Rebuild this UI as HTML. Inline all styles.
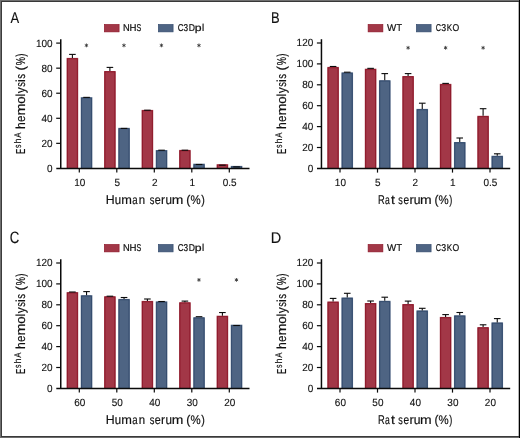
<!DOCTYPE html>
<html><head><meta charset="utf-8"><style>
html,body{margin:0;padding:0;background:#fff;}
body{width:520px;height:438px;overflow:hidden;position:relative;}
svg{position:absolute;left:0;top:0;display:block;will-change:transform;}
text{font-family:"Liberation Sans", sans-serif;fill:#111111;stroke:#111111;stroke-width:0.12px;stroke-linejoin:round;text-rendering:geometricPrecision;}
</style></head><body>
<svg width="520" height="438" viewBox="0 0 520 438">
<defs><filter id="bl" x="-100%" y="-100%" width="300%" height="300%"><feGaussianBlur stdDeviation="0.35"/></filter></defs>
<rect x="0" y="0" width="520" height="438" fill="#fff"/>
<text transform="translate(10.474,22.7) scale(0.834,1)" font-size="15.552">A</text>
<rect x="104.3" y="24.4" width="14.8" height="7.5" fill="#a23747" stroke="#8a1325" stroke-width="0.6"/>
<rect x="158.3" y="24.4" width="14.8" height="7.5" fill="#4e6483" stroke="#30476a" stroke-width="0.6"/>
<text transform="translate(0,31)" font-size="9.9" style="stroke-width:0.22px"><tspan x="122.987" textLength="6.718" lengthAdjust="spacingAndGlyphs">N</tspan><tspan x="129.508" textLength="6.976" lengthAdjust="spacingAndGlyphs">H</tspan><tspan x="136.522" textLength="4.756" lengthAdjust="spacingAndGlyphs">S</tspan></text>
<text transform="translate(0,31)" font-size="9.9" style="stroke-width:0.22px"><tspan x="177.639" textLength="5.818" lengthAdjust="spacingAndGlyphs">C</tspan><tspan x="183.537" textLength="4.576" lengthAdjust="spacingAndGlyphs">3</tspan><tspan x="188.644" textLength="6.221" lengthAdjust="spacingAndGlyphs">D</tspan><tspan x="194.868" textLength="6.797" lengthAdjust="spacingAndGlyphs">p</tspan><tspan x="201.901" textLength="2.2" lengthAdjust="spacingAndGlyphs">l</tspan></text>
<rect x="66.6" y="57.9" width="11.6" height="110.5" fill="#a23747"/>
<path d="M67.45,168.4V58.75H77.35V168.4" fill="none" stroke="#8a1325" stroke-width="0.8"/>
<line x1="72.4" y1="57.9" x2="72.4" y2="54.4" stroke="#0a0a0a" stroke-width="1.1"/>
<line x1="69.1" y1="54.4" x2="75.7" y2="54.4" stroke="#0a0a0a" stroke-width="1.1"/>
<rect x="80.75" y="97.2" width="11.6" height="71.2" fill="#4e6483"/>
<path d="M81.6,168.4V98.05H91.5V168.4" fill="none" stroke="#30476a" stroke-width="0.8"/>
<line x1="83.25" y1="97.37" x2="89.85" y2="97.37" stroke="#0a0a0a" stroke-width="1.1"/>
<rect x="104.1" y="71" width="11.6" height="97.4" fill="#a23747"/>
<path d="M104.95,168.4V71.85H114.85V168.4" fill="none" stroke="#8a1325" stroke-width="0.8"/>
<line x1="109.9" y1="71" x2="109.9" y2="67.4" stroke="#0a0a0a" stroke-width="1.1"/>
<line x1="106.6" y1="67.4" x2="113.2" y2="67.4" stroke="#0a0a0a" stroke-width="1.1"/>
<rect x="118.25" y="127.85" width="11.6" height="40.55" fill="#4e6483"/>
<path d="M119.1,168.4V128.7H129V168.4" fill="none" stroke="#30476a" stroke-width="0.8"/>
<line x1="120.75" y1="128.4" x2="127.35" y2="128.4" stroke="#0a0a0a" stroke-width="1.1"/>
<rect x="141.6" y="109.9" width="11.6" height="58.5" fill="#a23747"/>
<path d="M142.45,168.4V110.75H152.35V168.4" fill="none" stroke="#8a1325" stroke-width="0.8"/>
<line x1="144.1" y1="110.2" x2="150.7" y2="110.2" stroke="#0a0a0a" stroke-width="1.1"/>
<rect x="155.75" y="150.05" width="11.6" height="18.35" fill="#4e6483"/>
<path d="M156.6,168.4V150.9H166.5V168.4" fill="none" stroke="#30476a" stroke-width="0.8"/>
<line x1="158.25" y1="150.2" x2="164.85" y2="150.2" stroke="#0a0a0a" stroke-width="1.1"/>
<rect x="179.1" y="149.9" width="11.6" height="18.5" fill="#a23747"/>
<path d="M179.95,168.4V150.75H189.85V168.4" fill="none" stroke="#8a1325" stroke-width="0.8"/>
<line x1="181.6" y1="150.2" x2="188.2" y2="150.2" stroke="#0a0a0a" stroke-width="1.1"/>
<rect x="193.25" y="163.7" width="11.6" height="4.7" fill="#4e6483"/>
<path d="M194.1,168.4V164.55H204V168.4" fill="none" stroke="#30476a" stroke-width="0.8"/>
<line x1="195.75" y1="164.5" x2="202.35" y2="164.5" stroke="#0a0a0a" stroke-width="1.1"/>
<rect x="216.6" y="164.2" width="11.6" height="4.2" fill="#a23747"/>
<path d="M217.45,168.4V165.05H227.35V168.4" fill="none" stroke="#8a1325" stroke-width="0.8"/>
<line x1="219.1" y1="165.2" x2="225.7" y2="165.2" stroke="#0a0a0a" stroke-width="1.1"/>
<rect x="230.75" y="165.9" width="11.6" height="2.5" fill="#4e6483"/>
<path d="M231.6,168.4V166.75H241.5V168.4" fill="none" stroke="#30476a" stroke-width="0.8"/>
<line x1="233.25" y1="166.9" x2="239.85" y2="166.9" stroke="#0a0a0a" stroke-width="1.1"/>
<g transform="translate(86.45,45.4)" stroke="#333" stroke-width="0.85" stroke-linecap="round" filter="url(#bl)"><line x1="0" y1="-1.5" x2="0" y2="1.5"/><line x1="-1.3" y1="-0.75" x2="1.3" y2="0.75"/><line x1="-1.3" y1="0.75" x2="1.3" y2="-0.75"/></g>
<g transform="translate(123.95,45.4)" stroke="#333" stroke-width="0.85" stroke-linecap="round" filter="url(#bl)"><line x1="0" y1="-1.5" x2="0" y2="1.5"/><line x1="-1.3" y1="-0.75" x2="1.3" y2="0.75"/><line x1="-1.3" y1="0.75" x2="1.3" y2="-0.75"/></g>
<g transform="translate(161.45,45.4)" stroke="#333" stroke-width="0.85" stroke-linecap="round" filter="url(#bl)"><line x1="0" y1="-1.5" x2="0" y2="1.5"/><line x1="-1.3" y1="-0.75" x2="1.3" y2="0.75"/><line x1="-1.3" y1="0.75" x2="1.3" y2="-0.75"/></g>
<g transform="translate(198.95,45.4)" stroke="#333" stroke-width="0.85" stroke-linecap="round" filter="url(#bl)"><line x1="0" y1="-1.5" x2="0" y2="1.5"/><line x1="-1.3" y1="-0.75" x2="1.3" y2="0.75"/><line x1="-1.3" y1="0.75" x2="1.3" y2="-0.75"/></g>
<line x1="60.75" y1="39.2" x2="60.75" y2="168.4" stroke="#0a0a0a" stroke-width="1.5"/>
<line x1="56.3" y1="168.45" x2="249.5" y2="168.45" stroke="#0a0a0a" stroke-width="1.35"/>
<text transform="translate(52.55,171.85) scale(0.955,1)" font-size="10.45" text-anchor="end">0</text>
<line x1="56.2" y1="143.34" x2="60.75" y2="143.34" stroke="#0a0a0a" stroke-width="1.2"/>
<text transform="translate(52.55,146.79) scale(0.955,1)" font-size="10.45" text-anchor="end">20</text>
<line x1="56.2" y1="118.28" x2="60.75" y2="118.28" stroke="#0a0a0a" stroke-width="1.2"/>
<text transform="translate(52.55,121.73) scale(0.955,1)" font-size="10.45" text-anchor="end">40</text>
<line x1="56.2" y1="93.22" x2="60.75" y2="93.22" stroke="#0a0a0a" stroke-width="1.2"/>
<text transform="translate(52.55,96.67) scale(0.955,1)" font-size="10.45" text-anchor="end">60</text>
<line x1="56.2" y1="68.16" x2="60.75" y2="68.16" stroke="#0a0a0a" stroke-width="1.2"/>
<text transform="translate(52.55,71.61) scale(0.955,1)" font-size="10.45" text-anchor="end">80</text>
<line x1="56.2" y1="43.1" x2="60.75" y2="43.1" stroke="#0a0a0a" stroke-width="1.2"/>
<text transform="translate(52.55,46.55) scale(0.955,1)" font-size="10.45" text-anchor="end">100</text>
<line x1="79.3" y1="168.4" x2="79.3" y2="172.6" stroke="#0a0a0a" stroke-width="1.2"/>
<text transform="translate(79.7,185.8) scale(0.955,1)" font-size="10.45" text-anchor="middle">10</text>
<line x1="116.8" y1="168.4" x2="116.8" y2="172.6" stroke="#0a0a0a" stroke-width="1.2"/>
<text transform="translate(117.2,185.8) scale(0.955,1)" font-size="10.45" text-anchor="middle">5</text>
<line x1="154.3" y1="168.4" x2="154.3" y2="172.6" stroke="#0a0a0a" stroke-width="1.2"/>
<text transform="translate(154.7,185.8) scale(0.955,1)" font-size="10.45" text-anchor="middle">2</text>
<line x1="191.8" y1="168.4" x2="191.8" y2="172.6" stroke="#0a0a0a" stroke-width="1.2"/>
<text transform="translate(192.2,185.8) scale(0.955,1)" font-size="10.45" text-anchor="middle">1</text>
<line x1="229.3" y1="168.4" x2="229.3" y2="172.6" stroke="#0a0a0a" stroke-width="1.2"/>
<text transform="translate(229.7,185.8) scale(0.955,1)" font-size="10.45" text-anchor="middle">0.5</text>
<text transform="translate(0,204.2)" font-size="12.6" style="stroke-width:0.18px"><tspan x="105.806" textLength="8.927" lengthAdjust="spacingAndGlyphs">H</tspan><tspan x="114.777" textLength="6.36" lengthAdjust="spacingAndGlyphs">u</tspan><tspan x="121.376" textLength="10.647" lengthAdjust="spacingAndGlyphs">m</tspan><tspan x="132.315" textLength="5.367" lengthAdjust="spacingAndGlyphs">a</tspan><tspan x="138.865" textLength="6.36" lengthAdjust="spacingAndGlyphs">n</tspan><tspan x="149.659" textLength="4.656" lengthAdjust="spacingAndGlyphs">s</tspan><tspan x="154.868" textLength="5.988" lengthAdjust="spacingAndGlyphs">e</tspan><tspan x="161.112" textLength="4.076" lengthAdjust="spacingAndGlyphs">r</tspan><tspan x="165.561" textLength="6.491" lengthAdjust="spacingAndGlyphs">u</tspan><tspan x="171.801" textLength="11.598" lengthAdjust="spacingAndGlyphs">m</tspan><tspan x="186.157" textLength="4.097" lengthAdjust="spacingAndGlyphs">(</tspan><tspan x="190.408" textLength="10.174" lengthAdjust="spacingAndGlyphs">%</tspan><tspan x="201.155" textLength="3.594" lengthAdjust="spacingAndGlyphs">)</tspan></text>
<g transform="rotate(-90)"><text transform="translate(0,25.4)" font-size="13" style="stroke-width:0.18px"><tspan x="-128.924" textLength="6.8" lengthAdjust="spacingAndGlyphs">h</tspan><tspan x="-121.968" textLength="6.461" lengthAdjust="spacingAndGlyphs">e</tspan><tspan x="-115.437" textLength="12.073" lengthAdjust="spacingAndGlyphs">m</tspan><tspan x="-103.737" textLength="7.376" lengthAdjust="spacingAndGlyphs">o</tspan><tspan x="-96.543" textLength="2.888" lengthAdjust="spacingAndGlyphs">l</tspan><tspan x="-93.316" textLength="5.919" lengthAdjust="spacingAndGlyphs">y</tspan><tspan x="-86.841" textLength="4.656" lengthAdjust="spacingAndGlyphs">s</tspan><tspan x="-81.993" textLength="2.888" lengthAdjust="spacingAndGlyphs">i</tspan><tspan x="-78.647" textLength="4.771" lengthAdjust="spacingAndGlyphs">s</tspan><tspan x="-70.536" textLength="4.599" lengthAdjust="spacingAndGlyphs">(</tspan><tspan x="-65.213" textLength="8.218" lengthAdjust="spacingAndGlyphs">%</tspan><tspan x="-56.74" textLength="3.343" lengthAdjust="spacingAndGlyphs">)</tspan></text><text transform="translate(0,21)" font-size="9.6" style="stroke-width:0.18px"><tspan x="-147.923" textLength="3.452" lengthAdjust="spacingAndGlyphs">s</tspan><tspan x="-143.603" textLength="5.021" lengthAdjust="spacingAndGlyphs">h</tspan><tspan x="-137.696" textLength="5.292" lengthAdjust="spacingAndGlyphs">A</tspan></text><text transform="translate(0,25.4)" font-size="13" style="stroke-width:0.18px"><tspan x="-154.04" textLength="5.366" lengthAdjust="spacingAndGlyphs">E</tspan></text></g>
<text transform="translate(270.936,22.7) scale(0.834,1)" font-size="15.552">B</text>
<rect x="368.1" y="24.4" width="14.8" height="7.5" fill="#a23747" stroke="#8a1325" stroke-width="0.6"/>
<rect x="416.3" y="24.4" width="14.8" height="7.5" fill="#4e6483" stroke="#30476a" stroke-width="0.6"/>
<text transform="translate(0,31)" font-size="9.9" style="stroke-width:0.22px"><tspan x="386.901" textLength="9.237" lengthAdjust="spacingAndGlyphs">W</tspan><tspan x="396.552" textLength="5.504" lengthAdjust="spacingAndGlyphs">T</tspan></text>
<text transform="translate(0,31)" font-size="9.9" style="stroke-width:0.22px"><tspan x="435.675" textLength="5.305" lengthAdjust="spacingAndGlyphs">C</tspan><tspan x="441.217" textLength="4.869" lengthAdjust="spacingAndGlyphs">3</tspan><tspan x="446.635" textLength="5.413" lengthAdjust="spacingAndGlyphs">K</tspan><tspan x="452.394" textLength="6.719" lengthAdjust="spacingAndGlyphs">O</tspan></text>
<rect x="327.3" y="66.9" width="11.6" height="101.5" fill="#a23747"/>
<path d="M328.15,168.4V67.75H338.05V168.4" fill="none" stroke="#8a1325" stroke-width="0.8"/>
<line x1="329.8" y1="66.48" x2="336.4" y2="66.48" stroke="#0a0a0a" stroke-width="1.1"/>
<rect x="341.45" y="72.4" width="11.6" height="96" fill="#4e6483"/>
<path d="M342.3,168.4V73.25H352.2V168.4" fill="none" stroke="#30476a" stroke-width="0.8"/>
<line x1="343.95" y1="72.2" x2="350.55" y2="72.2" stroke="#0a0a0a" stroke-width="1.1"/>
<rect x="364.8" y="68.7" width="11.6" height="99.7" fill="#a23747"/>
<path d="M365.65,168.4V69.55H375.55V168.4" fill="none" stroke="#8a1325" stroke-width="0.8"/>
<line x1="367.3" y1="68.35" x2="373.9" y2="68.35" stroke="#0a0a0a" stroke-width="1.1"/>
<rect x="378.95" y="80.2" width="11.6" height="88.2" fill="#4e6483"/>
<path d="M379.8,168.4V81.05H389.7V168.4" fill="none" stroke="#30476a" stroke-width="0.8"/>
<line x1="384.75" y1="80.2" x2="384.75" y2="73.6" stroke="#0a0a0a" stroke-width="1.1"/>
<line x1="381.45" y1="73.6" x2="388.05" y2="73.6" stroke="#0a0a0a" stroke-width="1.1"/>
<rect x="402.3" y="76" width="11.6" height="92.4" fill="#a23747"/>
<path d="M403.15,168.4V76.85H413.05V168.4" fill="none" stroke="#8a1325" stroke-width="0.8"/>
<line x1="408.1" y1="76" x2="408.1" y2="73.6" stroke="#0a0a0a" stroke-width="1.1"/>
<line x1="404.8" y1="73.6" x2="411.4" y2="73.6" stroke="#0a0a0a" stroke-width="1.1"/>
<rect x="416.45" y="108.9" width="11.6" height="59.5" fill="#4e6483"/>
<path d="M417.3,168.4V109.75H427.2V168.4" fill="none" stroke="#30476a" stroke-width="0.8"/>
<line x1="422.25" y1="108.9" x2="422.25" y2="103.2" stroke="#0a0a0a" stroke-width="1.1"/>
<line x1="418.95" y1="103.2" x2="425.55" y2="103.2" stroke="#0a0a0a" stroke-width="1.1"/>
<rect x="439.8" y="83.85" width="11.6" height="84.55" fill="#a23747"/>
<path d="M440.65,168.4V84.7H450.55V168.4" fill="none" stroke="#8a1325" stroke-width="0.8"/>
<line x1="442.3" y1="83.4" x2="448.9" y2="83.4" stroke="#0a0a0a" stroke-width="1.1"/>
<rect x="453.95" y="142" width="11.6" height="26.4" fill="#4e6483"/>
<path d="M454.8,168.4V142.85H464.7V168.4" fill="none" stroke="#30476a" stroke-width="0.8"/>
<line x1="459.75" y1="142" x2="459.75" y2="138" stroke="#0a0a0a" stroke-width="1.1"/>
<line x1="456.45" y1="138" x2="463.05" y2="138" stroke="#0a0a0a" stroke-width="1.1"/>
<rect x="477.3" y="115.8" width="11.6" height="52.6" fill="#a23747"/>
<path d="M478.15,168.4V116.65H488.05V168.4" fill="none" stroke="#8a1325" stroke-width="0.8"/>
<line x1="483.1" y1="115.8" x2="483.1" y2="108.7" stroke="#0a0a0a" stroke-width="1.1"/>
<line x1="479.8" y1="108.7" x2="486.4" y2="108.7" stroke="#0a0a0a" stroke-width="1.1"/>
<rect x="491.45" y="155.75" width="11.6" height="12.65" fill="#4e6483"/>
<path d="M492.3,168.4V156.6H502.2V168.4" fill="none" stroke="#30476a" stroke-width="0.8"/>
<line x1="497.25" y1="155.75" x2="497.25" y2="153.8" stroke="#0a0a0a" stroke-width="1.1"/>
<line x1="493.95" y1="153.8" x2="500.55" y2="153.8" stroke="#0a0a0a" stroke-width="1.1"/>
<g transform="translate(408.1,47.8)" stroke="#333" stroke-width="0.85" stroke-linecap="round" filter="url(#bl)"><line x1="0" y1="-1.5" x2="0" y2="1.5"/><line x1="-1.3" y1="-0.75" x2="1.3" y2="0.75"/><line x1="-1.3" y1="0.75" x2="1.3" y2="-0.75"/></g>
<g transform="translate(445.6,47.8)" stroke="#333" stroke-width="0.85" stroke-linecap="round" filter="url(#bl)"><line x1="0" y1="-1.5" x2="0" y2="1.5"/><line x1="-1.3" y1="-0.75" x2="1.3" y2="0.75"/><line x1="-1.3" y1="0.75" x2="1.3" y2="-0.75"/></g>
<g transform="translate(483.1,47.8)" stroke="#333" stroke-width="0.85" stroke-linecap="round" filter="url(#bl)"><line x1="0" y1="-1.5" x2="0" y2="1.5"/><line x1="-1.3" y1="-0.75" x2="1.3" y2="0.75"/><line x1="-1.3" y1="0.75" x2="1.3" y2="-0.75"/></g>
<line x1="321.45" y1="39.2" x2="321.45" y2="168.4" stroke="#0a0a0a" stroke-width="1.5"/>
<line x1="317" y1="168.45" x2="510.2" y2="168.45" stroke="#0a0a0a" stroke-width="1.35"/>
<text transform="translate(313.25,171.85) scale(0.955,1)" font-size="10.45" text-anchor="end">0</text>
<line x1="316.9" y1="147.5" x2="321.45" y2="147.5" stroke="#0a0a0a" stroke-width="1.2"/>
<text transform="translate(313.25,150.95) scale(0.955,1)" font-size="10.45" text-anchor="end">20</text>
<line x1="316.9" y1="126.6" x2="321.45" y2="126.6" stroke="#0a0a0a" stroke-width="1.2"/>
<text transform="translate(313.25,130.05) scale(0.955,1)" font-size="10.45" text-anchor="end">40</text>
<line x1="316.9" y1="105.7" x2="321.45" y2="105.7" stroke="#0a0a0a" stroke-width="1.2"/>
<text transform="translate(313.25,109.15) scale(0.955,1)" font-size="10.45" text-anchor="end">60</text>
<line x1="316.9" y1="84.8" x2="321.45" y2="84.8" stroke="#0a0a0a" stroke-width="1.2"/>
<text transform="translate(313.25,88.25) scale(0.955,1)" font-size="10.45" text-anchor="end">80</text>
<line x1="316.9" y1="63.9" x2="321.45" y2="63.9" stroke="#0a0a0a" stroke-width="1.2"/>
<text transform="translate(313.25,67.35) scale(0.955,1)" font-size="10.45" text-anchor="end">100</text>
<line x1="316.9" y1="43" x2="321.45" y2="43" stroke="#0a0a0a" stroke-width="1.2"/>
<text transform="translate(313.25,46.45) scale(0.955,1)" font-size="10.45" text-anchor="end">120</text>
<line x1="340" y1="168.4" x2="340" y2="172.6" stroke="#0a0a0a" stroke-width="1.2"/>
<text transform="translate(340.4,185.8) scale(0.955,1)" font-size="10.45" text-anchor="middle">10</text>
<line x1="377.5" y1="168.4" x2="377.5" y2="172.6" stroke="#0a0a0a" stroke-width="1.2"/>
<text transform="translate(377.9,185.8) scale(0.955,1)" font-size="10.45" text-anchor="middle">5</text>
<line x1="415" y1="168.4" x2="415" y2="172.6" stroke="#0a0a0a" stroke-width="1.2"/>
<text transform="translate(415.4,185.8) scale(0.955,1)" font-size="10.45" text-anchor="middle">2</text>
<line x1="452.5" y1="168.4" x2="452.5" y2="172.6" stroke="#0a0a0a" stroke-width="1.2"/>
<text transform="translate(452.9,185.8) scale(0.955,1)" font-size="10.45" text-anchor="middle">1</text>
<line x1="490" y1="168.4" x2="490" y2="172.6" stroke="#0a0a0a" stroke-width="1.2"/>
<text transform="translate(490.4,185.8) scale(0.955,1)" font-size="10.45" text-anchor="middle">0.5</text>
<text transform="translate(0,204.2)" font-size="12.6" style="stroke-width:0.18px"><tspan x="378.051" textLength="6.771" lengthAdjust="spacingAndGlyphs">R</tspan><tspan x="384.96" textLength="4.772" lengthAdjust="spacingAndGlyphs">a</tspan><tspan x="390.908" textLength="3.918" lengthAdjust="spacingAndGlyphs">t</tspan><tspan x="398.166" textLength="4.541" lengthAdjust="spacingAndGlyphs">s</tspan><tspan x="403.395" textLength="5.633" lengthAdjust="spacingAndGlyphs">e</tspan><tspan x="409.459" textLength="4.343" lengthAdjust="spacingAndGlyphs">r</tspan><tspan x="413.631" textLength="6.752" lengthAdjust="spacingAndGlyphs">u</tspan><tspan x="419.996" textLength="11.657" lengthAdjust="spacingAndGlyphs">m</tspan><tspan x="434.481" textLength="3.971" lengthAdjust="spacingAndGlyphs">(</tspan><tspan x="438.608" textLength="10.174" lengthAdjust="spacingAndGlyphs">%</tspan><tspan x="449.364" textLength="3.091" lengthAdjust="spacingAndGlyphs">)</tspan></text>
<g transform="rotate(-90)"><text transform="translate(0,286.1)" font-size="13" style="stroke-width:0.18px"><tspan x="-128.924" textLength="6.8" lengthAdjust="spacingAndGlyphs">h</tspan><tspan x="-121.968" textLength="6.461" lengthAdjust="spacingAndGlyphs">e</tspan><tspan x="-115.437" textLength="12.073" lengthAdjust="spacingAndGlyphs">m</tspan><tspan x="-103.737" textLength="7.376" lengthAdjust="spacingAndGlyphs">o</tspan><tspan x="-96.543" textLength="2.888" lengthAdjust="spacingAndGlyphs">l</tspan><tspan x="-93.316" textLength="5.919" lengthAdjust="spacingAndGlyphs">y</tspan><tspan x="-86.841" textLength="4.656" lengthAdjust="spacingAndGlyphs">s</tspan><tspan x="-81.993" textLength="2.888" lengthAdjust="spacingAndGlyphs">i</tspan><tspan x="-78.647" textLength="4.771" lengthAdjust="spacingAndGlyphs">s</tspan><tspan x="-70.536" textLength="4.599" lengthAdjust="spacingAndGlyphs">(</tspan><tspan x="-65.213" textLength="8.218" lengthAdjust="spacingAndGlyphs">%</tspan><tspan x="-56.74" textLength="3.343" lengthAdjust="spacingAndGlyphs">)</tspan></text><text transform="translate(0,281.7)" font-size="9.6" style="stroke-width:0.18px"><tspan x="-147.923" textLength="3.452" lengthAdjust="spacingAndGlyphs">s</tspan><tspan x="-143.603" textLength="5.021" lengthAdjust="spacingAndGlyphs">h</tspan><tspan x="-137.696" textLength="5.292" lengthAdjust="spacingAndGlyphs">A</tspan></text><text transform="translate(0,286.1)" font-size="13" style="stroke-width:0.18px"><tspan x="-154.04" textLength="5.366" lengthAdjust="spacingAndGlyphs">E</tspan></text></g>
<text transform="translate(9.823,242.8) scale(0.808,1)" font-size="16.424">C</text>
<rect x="104.3" y="244.4" width="14.8" height="7.5" fill="#a23747" stroke="#8a1325" stroke-width="0.6"/>
<rect x="158.3" y="244.4" width="14.8" height="7.5" fill="#4e6483" stroke="#30476a" stroke-width="0.6"/>
<text transform="translate(0,251)" font-size="9.9" style="stroke-width:0.22px"><tspan x="122.987" textLength="6.718" lengthAdjust="spacingAndGlyphs">N</tspan><tspan x="129.508" textLength="6.976" lengthAdjust="spacingAndGlyphs">H</tspan><tspan x="136.522" textLength="4.756" lengthAdjust="spacingAndGlyphs">S</tspan></text>
<text transform="translate(0,251)" font-size="9.9" style="stroke-width:0.22px"><tspan x="177.639" textLength="5.818" lengthAdjust="spacingAndGlyphs">C</tspan><tspan x="183.537" textLength="4.576" lengthAdjust="spacingAndGlyphs">3</tspan><tspan x="188.644" textLength="6.221" lengthAdjust="spacingAndGlyphs">D</tspan><tspan x="194.868" textLength="6.797" lengthAdjust="spacingAndGlyphs">p</tspan><tspan x="201.901" textLength="2.2" lengthAdjust="spacingAndGlyphs">l</tspan></text>
<rect x="66.6" y="292.1" width="11.6" height="96.3" fill="#a23747"/>
<path d="M67.45,388.4V292.95H77.35V388.4" fill="none" stroke="#8a1325" stroke-width="0.8"/>
<line x1="69.1" y1="292" x2="75.7" y2="292" stroke="#0a0a0a" stroke-width="1.1"/>
<rect x="80.75" y="295.2" width="11.6" height="93.2" fill="#4e6483"/>
<path d="M81.6,388.4V296.05H91.5V388.4" fill="none" stroke="#30476a" stroke-width="0.8"/>
<line x1="86.55" y1="295.2" x2="86.55" y2="291.6" stroke="#0a0a0a" stroke-width="1.1"/>
<line x1="83.25" y1="291.6" x2="89.85" y2="291.6" stroke="#0a0a0a" stroke-width="1.1"/>
<rect x="104.1" y="296.2" width="11.6" height="92.2" fill="#a23747"/>
<path d="M104.95,388.4V297.05H114.85V388.4" fill="none" stroke="#8a1325" stroke-width="0.8"/>
<line x1="106.6" y1="296.2" x2="113.2" y2="296.2" stroke="#0a0a0a" stroke-width="1.1"/>
<rect x="118.25" y="298.9" width="11.6" height="89.5" fill="#4e6483"/>
<path d="M119.1,388.4V299.75H129V388.4" fill="none" stroke="#30476a" stroke-width="0.8"/>
<line x1="124.05" y1="298.9" x2="124.05" y2="297.5" stroke="#0a0a0a" stroke-width="1.1"/>
<line x1="120.75" y1="297.5" x2="127.35" y2="297.5" stroke="#0a0a0a" stroke-width="1.1"/>
<rect x="141.6" y="300.9" width="11.6" height="87.5" fill="#a23747"/>
<path d="M142.45,388.4V301.75H152.35V388.4" fill="none" stroke="#8a1325" stroke-width="0.8"/>
<line x1="147.4" y1="300.9" x2="147.4" y2="299" stroke="#0a0a0a" stroke-width="1.1"/>
<line x1="144.1" y1="299" x2="150.7" y2="299" stroke="#0a0a0a" stroke-width="1.1"/>
<rect x="155.75" y="301.4" width="11.6" height="87" fill="#4e6483"/>
<path d="M156.6,388.4V302.25H166.5V388.4" fill="none" stroke="#30476a" stroke-width="0.8"/>
<line x1="158.25" y1="301.5" x2="164.85" y2="301.5" stroke="#0a0a0a" stroke-width="1.1"/>
<rect x="179.1" y="302.2" width="11.6" height="86.2" fill="#a23747"/>
<path d="M179.95,388.4V303.05H189.85V388.4" fill="none" stroke="#8a1325" stroke-width="0.8"/>
<line x1="184.9" y1="302.2" x2="184.9" y2="301.1" stroke="#0a0a0a" stroke-width="1.1"/>
<line x1="181.6" y1="301.1" x2="188.2" y2="301.1" stroke="#0a0a0a" stroke-width="1.1"/>
<rect x="193.25" y="317.2" width="11.6" height="71.2" fill="#4e6483"/>
<path d="M194.1,388.4V318.05H204V388.4" fill="none" stroke="#30476a" stroke-width="0.8"/>
<line x1="195.75" y1="316.7" x2="202.35" y2="316.7" stroke="#0a0a0a" stroke-width="1.1"/>
<rect x="216.6" y="315.7" width="11.6" height="72.7" fill="#a23747"/>
<path d="M217.45,388.4V316.55H227.35V388.4" fill="none" stroke="#8a1325" stroke-width="0.8"/>
<line x1="222.4" y1="315.7" x2="222.4" y2="312.55" stroke="#0a0a0a" stroke-width="1.1"/>
<line x1="219.1" y1="312.55" x2="225.7" y2="312.55" stroke="#0a0a0a" stroke-width="1.1"/>
<rect x="230.75" y="324.7" width="11.6" height="63.7" fill="#4e6483"/>
<path d="M231.6,388.4V325.55H241.5V388.4" fill="none" stroke="#30476a" stroke-width="0.8"/>
<line x1="233.25" y1="325.5" x2="239.85" y2="325.5" stroke="#0a0a0a" stroke-width="1.1"/>
<g transform="translate(198.95,279.9)" stroke="#333" stroke-width="0.85" stroke-linecap="round" filter="url(#bl)"><line x1="0" y1="-1.5" x2="0" y2="1.5"/><line x1="-1.3" y1="-0.75" x2="1.3" y2="0.75"/><line x1="-1.3" y1="0.75" x2="1.3" y2="-0.75"/></g>
<g transform="translate(236.45,279.9)" stroke="#333" stroke-width="0.85" stroke-linecap="round" filter="url(#bl)"><line x1="0" y1="-1.5" x2="0" y2="1.5"/><line x1="-1.3" y1="-0.75" x2="1.3" y2="0.75"/><line x1="-1.3" y1="0.75" x2="1.3" y2="-0.75"/></g>
<line x1="60.75" y1="259.2" x2="60.75" y2="388.4" stroke="#0a0a0a" stroke-width="1.5"/>
<line x1="56.3" y1="388.45" x2="249.5" y2="388.45" stroke="#0a0a0a" stroke-width="1.35"/>
<text transform="translate(52.55,391.85) scale(0.955,1)" font-size="10.45" text-anchor="end">0</text>
<line x1="56.2" y1="367.5" x2="60.75" y2="367.5" stroke="#0a0a0a" stroke-width="1.2"/>
<text transform="translate(52.55,370.95) scale(0.955,1)" font-size="10.45" text-anchor="end">20</text>
<line x1="56.2" y1="346.6" x2="60.75" y2="346.6" stroke="#0a0a0a" stroke-width="1.2"/>
<text transform="translate(52.55,350.05) scale(0.955,1)" font-size="10.45" text-anchor="end">40</text>
<line x1="56.2" y1="325.7" x2="60.75" y2="325.7" stroke="#0a0a0a" stroke-width="1.2"/>
<text transform="translate(52.55,329.15) scale(0.955,1)" font-size="10.45" text-anchor="end">60</text>
<line x1="56.2" y1="304.8" x2="60.75" y2="304.8" stroke="#0a0a0a" stroke-width="1.2"/>
<text transform="translate(52.55,308.25) scale(0.955,1)" font-size="10.45" text-anchor="end">80</text>
<line x1="56.2" y1="283.9" x2="60.75" y2="283.9" stroke="#0a0a0a" stroke-width="1.2"/>
<text transform="translate(52.55,287.35) scale(0.955,1)" font-size="10.45" text-anchor="end">100</text>
<line x1="56.2" y1="263" x2="60.75" y2="263" stroke="#0a0a0a" stroke-width="1.2"/>
<text transform="translate(52.55,266.45) scale(0.955,1)" font-size="10.45" text-anchor="end">120</text>
<line x1="79.3" y1="388.4" x2="79.3" y2="392.6" stroke="#0a0a0a" stroke-width="1.2"/>
<text transform="translate(79.7,405.8) scale(0.955,1)" font-size="10.45" text-anchor="middle">60</text>
<line x1="116.8" y1="388.4" x2="116.8" y2="392.6" stroke="#0a0a0a" stroke-width="1.2"/>
<text transform="translate(117.2,405.8) scale(0.955,1)" font-size="10.45" text-anchor="middle">50</text>
<line x1="154.3" y1="388.4" x2="154.3" y2="392.6" stroke="#0a0a0a" stroke-width="1.2"/>
<text transform="translate(154.7,405.8) scale(0.955,1)" font-size="10.45" text-anchor="middle">40</text>
<line x1="191.8" y1="388.4" x2="191.8" y2="392.6" stroke="#0a0a0a" stroke-width="1.2"/>
<text transform="translate(192.2,405.8) scale(0.955,1)" font-size="10.45" text-anchor="middle">30</text>
<line x1="229.3" y1="388.4" x2="229.3" y2="392.6" stroke="#0a0a0a" stroke-width="1.2"/>
<text transform="translate(229.7,405.8) scale(0.955,1)" font-size="10.45" text-anchor="middle">20</text>
<text transform="translate(0,424.2)" font-size="12.6" style="stroke-width:0.18px"><tspan x="105.806" textLength="8.927" lengthAdjust="spacingAndGlyphs">H</tspan><tspan x="114.777" textLength="6.36" lengthAdjust="spacingAndGlyphs">u</tspan><tspan x="121.376" textLength="10.647" lengthAdjust="spacingAndGlyphs">m</tspan><tspan x="132.315" textLength="5.367" lengthAdjust="spacingAndGlyphs">a</tspan><tspan x="138.865" textLength="6.36" lengthAdjust="spacingAndGlyphs">n</tspan><tspan x="149.659" textLength="4.656" lengthAdjust="spacingAndGlyphs">s</tspan><tspan x="154.868" textLength="5.988" lengthAdjust="spacingAndGlyphs">e</tspan><tspan x="161.112" textLength="4.076" lengthAdjust="spacingAndGlyphs">r</tspan><tspan x="165.561" textLength="6.491" lengthAdjust="spacingAndGlyphs">u</tspan><tspan x="171.801" textLength="11.598" lengthAdjust="spacingAndGlyphs">m</tspan><tspan x="186.157" textLength="4.097" lengthAdjust="spacingAndGlyphs">(</tspan><tspan x="190.408" textLength="10.174" lengthAdjust="spacingAndGlyphs">%</tspan><tspan x="201.155" textLength="3.594" lengthAdjust="spacingAndGlyphs">)</tspan></text>
<g transform="rotate(-90)"><text transform="translate(0,25.4)" font-size="13" style="stroke-width:0.18px"><tspan x="-348.924" textLength="6.8" lengthAdjust="spacingAndGlyphs">h</tspan><tspan x="-341.968" textLength="6.461" lengthAdjust="spacingAndGlyphs">e</tspan><tspan x="-335.437" textLength="12.073" lengthAdjust="spacingAndGlyphs">m</tspan><tspan x="-323.737" textLength="7.376" lengthAdjust="spacingAndGlyphs">o</tspan><tspan x="-316.543" textLength="2.888" lengthAdjust="spacingAndGlyphs">l</tspan><tspan x="-313.316" textLength="5.919" lengthAdjust="spacingAndGlyphs">y</tspan><tspan x="-306.841" textLength="4.656" lengthAdjust="spacingAndGlyphs">s</tspan><tspan x="-301.993" textLength="2.888" lengthAdjust="spacingAndGlyphs">i</tspan><tspan x="-298.647" textLength="4.771" lengthAdjust="spacingAndGlyphs">s</tspan><tspan x="-290.536" textLength="4.599" lengthAdjust="spacingAndGlyphs">(</tspan><tspan x="-285.213" textLength="8.218" lengthAdjust="spacingAndGlyphs">%</tspan><tspan x="-276.74" textLength="3.343" lengthAdjust="spacingAndGlyphs">)</tspan></text><text transform="translate(0,21)" font-size="9.6" style="stroke-width:0.18px"><tspan x="-367.923" textLength="3.452" lengthAdjust="spacingAndGlyphs">s</tspan><tspan x="-363.603" textLength="5.021" lengthAdjust="spacingAndGlyphs">h</tspan><tspan x="-357.696" textLength="5.292" lengthAdjust="spacingAndGlyphs">A</tspan></text><text transform="translate(0,25.4)" font-size="13" style="stroke-width:0.18px"><tspan x="-374.04" textLength="5.366" lengthAdjust="spacingAndGlyphs">E</tspan></text></g>
<text transform="translate(270.809,242.6) scale(0.943,1)" font-size="15.407">D</text>
<rect x="368.1" y="244.4" width="14.8" height="7.5" fill="#a23747" stroke="#8a1325" stroke-width="0.6"/>
<rect x="416.3" y="244.4" width="14.8" height="7.5" fill="#4e6483" stroke="#30476a" stroke-width="0.6"/>
<text transform="translate(0,251)" font-size="9.9" style="stroke-width:0.22px"><tspan x="386.901" textLength="9.237" lengthAdjust="spacingAndGlyphs">W</tspan><tspan x="396.552" textLength="5.504" lengthAdjust="spacingAndGlyphs">T</tspan></text>
<text transform="translate(0,251)" font-size="9.9" style="stroke-width:0.22px"><tspan x="435.675" textLength="5.305" lengthAdjust="spacingAndGlyphs">C</tspan><tspan x="441.217" textLength="4.869" lengthAdjust="spacingAndGlyphs">3</tspan><tspan x="446.635" textLength="5.413" lengthAdjust="spacingAndGlyphs">K</tspan><tspan x="452.394" textLength="6.719" lengthAdjust="spacingAndGlyphs">O</tspan></text>
<rect x="327.3" y="301.5" width="11.6" height="86.9" fill="#a23747"/>
<path d="M328.15,388.4V302.35H338.05V388.4" fill="none" stroke="#8a1325" stroke-width="0.8"/>
<line x1="333.1" y1="301.5" x2="333.1" y2="298.4" stroke="#0a0a0a" stroke-width="1.1"/>
<line x1="329.8" y1="298.4" x2="336.4" y2="298.4" stroke="#0a0a0a" stroke-width="1.1"/>
<rect x="341.45" y="297.5" width="11.6" height="90.9" fill="#4e6483"/>
<path d="M342.3,388.4V298.35H352.2V388.4" fill="none" stroke="#30476a" stroke-width="0.8"/>
<line x1="347.25" y1="297.5" x2="347.25" y2="293.3" stroke="#0a0a0a" stroke-width="1.1"/>
<line x1="343.95" y1="293.3" x2="350.55" y2="293.3" stroke="#0a0a0a" stroke-width="1.1"/>
<rect x="364.8" y="303" width="11.6" height="85.4" fill="#a23747"/>
<path d="M365.65,388.4V303.85H375.55V388.4" fill="none" stroke="#8a1325" stroke-width="0.8"/>
<line x1="370.6" y1="303" x2="370.6" y2="301" stroke="#0a0a0a" stroke-width="1.1"/>
<line x1="367.3" y1="301" x2="373.9" y2="301" stroke="#0a0a0a" stroke-width="1.1"/>
<rect x="378.95" y="300.8" width="11.6" height="87.6" fill="#4e6483"/>
<path d="M379.8,388.4V301.65H389.7V388.4" fill="none" stroke="#30476a" stroke-width="0.8"/>
<line x1="384.75" y1="300.8" x2="384.75" y2="297.2" stroke="#0a0a0a" stroke-width="1.1"/>
<line x1="381.45" y1="297.2" x2="388.05" y2="297.2" stroke="#0a0a0a" stroke-width="1.1"/>
<rect x="402.3" y="304" width="11.6" height="84.4" fill="#a23747"/>
<path d="M403.15,388.4V304.85H413.05V388.4" fill="none" stroke="#8a1325" stroke-width="0.8"/>
<line x1="408.1" y1="304" x2="408.1" y2="301.1" stroke="#0a0a0a" stroke-width="1.1"/>
<line x1="404.8" y1="301.1" x2="411.4" y2="301.1" stroke="#0a0a0a" stroke-width="1.1"/>
<rect x="416.45" y="310.4" width="11.6" height="78" fill="#4e6483"/>
<path d="M417.3,388.4V311.25H427.2V388.4" fill="none" stroke="#30476a" stroke-width="0.8"/>
<line x1="422.25" y1="310.4" x2="422.25" y2="308.3" stroke="#0a0a0a" stroke-width="1.1"/>
<line x1="418.95" y1="308.3" x2="425.55" y2="308.3" stroke="#0a0a0a" stroke-width="1.1"/>
<rect x="439.8" y="316.9" width="11.6" height="71.5" fill="#a23747"/>
<path d="M440.65,388.4V317.75H450.55V388.4" fill="none" stroke="#8a1325" stroke-width="0.8"/>
<line x1="445.6" y1="316.9" x2="445.6" y2="314.6" stroke="#0a0a0a" stroke-width="1.1"/>
<line x1="442.3" y1="314.6" x2="448.9" y2="314.6" stroke="#0a0a0a" stroke-width="1.1"/>
<rect x="453.95" y="315.3" width="11.6" height="73.1" fill="#4e6483"/>
<path d="M454.8,388.4V316.15H464.7V388.4" fill="none" stroke="#30476a" stroke-width="0.8"/>
<line x1="459.75" y1="315.3" x2="459.75" y2="312.5" stroke="#0a0a0a" stroke-width="1.1"/>
<line x1="456.45" y1="312.5" x2="463.05" y2="312.5" stroke="#0a0a0a" stroke-width="1.1"/>
<rect x="477.3" y="327.1" width="11.6" height="61.3" fill="#a23747"/>
<path d="M478.15,388.4V327.95H488.05V388.4" fill="none" stroke="#8a1325" stroke-width="0.8"/>
<line x1="483.1" y1="327.1" x2="483.1" y2="324.8" stroke="#0a0a0a" stroke-width="1.1"/>
<line x1="479.8" y1="324.8" x2="486.4" y2="324.8" stroke="#0a0a0a" stroke-width="1.1"/>
<rect x="491.45" y="322.4" width="11.6" height="66" fill="#4e6483"/>
<path d="M492.3,388.4V323.25H502.2V388.4" fill="none" stroke="#30476a" stroke-width="0.8"/>
<line x1="497.25" y1="322.4" x2="497.25" y2="318.6" stroke="#0a0a0a" stroke-width="1.1"/>
<line x1="493.95" y1="318.6" x2="500.55" y2="318.6" stroke="#0a0a0a" stroke-width="1.1"/>
<line x1="321.45" y1="259.2" x2="321.45" y2="388.4" stroke="#0a0a0a" stroke-width="1.5"/>
<line x1="317" y1="388.45" x2="510.2" y2="388.45" stroke="#0a0a0a" stroke-width="1.35"/>
<text transform="translate(313.25,391.85) scale(0.955,1)" font-size="10.45" text-anchor="end">0</text>
<line x1="316.9" y1="367.5" x2="321.45" y2="367.5" stroke="#0a0a0a" stroke-width="1.2"/>
<text transform="translate(313.25,370.95) scale(0.955,1)" font-size="10.45" text-anchor="end">20</text>
<line x1="316.9" y1="346.6" x2="321.45" y2="346.6" stroke="#0a0a0a" stroke-width="1.2"/>
<text transform="translate(313.25,350.05) scale(0.955,1)" font-size="10.45" text-anchor="end">40</text>
<line x1="316.9" y1="325.7" x2="321.45" y2="325.7" stroke="#0a0a0a" stroke-width="1.2"/>
<text transform="translate(313.25,329.15) scale(0.955,1)" font-size="10.45" text-anchor="end">60</text>
<line x1="316.9" y1="304.8" x2="321.45" y2="304.8" stroke="#0a0a0a" stroke-width="1.2"/>
<text transform="translate(313.25,308.25) scale(0.955,1)" font-size="10.45" text-anchor="end">80</text>
<line x1="316.9" y1="283.9" x2="321.45" y2="283.9" stroke="#0a0a0a" stroke-width="1.2"/>
<text transform="translate(313.25,287.35) scale(0.955,1)" font-size="10.45" text-anchor="end">100</text>
<line x1="316.9" y1="263" x2="321.45" y2="263" stroke="#0a0a0a" stroke-width="1.2"/>
<text transform="translate(313.25,266.45) scale(0.955,1)" font-size="10.45" text-anchor="end">120</text>
<line x1="340" y1="388.4" x2="340" y2="392.6" stroke="#0a0a0a" stroke-width="1.2"/>
<text transform="translate(340.4,405.8) scale(0.955,1)" font-size="10.45" text-anchor="middle">60</text>
<line x1="377.5" y1="388.4" x2="377.5" y2="392.6" stroke="#0a0a0a" stroke-width="1.2"/>
<text transform="translate(377.9,405.8) scale(0.955,1)" font-size="10.45" text-anchor="middle">50</text>
<line x1="415" y1="388.4" x2="415" y2="392.6" stroke="#0a0a0a" stroke-width="1.2"/>
<text transform="translate(415.4,405.8) scale(0.955,1)" font-size="10.45" text-anchor="middle">40</text>
<line x1="452.5" y1="388.4" x2="452.5" y2="392.6" stroke="#0a0a0a" stroke-width="1.2"/>
<text transform="translate(452.9,405.8) scale(0.955,1)" font-size="10.45" text-anchor="middle">30</text>
<line x1="490" y1="388.4" x2="490" y2="392.6" stroke="#0a0a0a" stroke-width="1.2"/>
<text transform="translate(490.4,405.8) scale(0.955,1)" font-size="10.45" text-anchor="middle">20</text>
<text transform="translate(0,424.2)" font-size="12.6" style="stroke-width:0.18px"><tspan x="378.051" textLength="6.771" lengthAdjust="spacingAndGlyphs">R</tspan><tspan x="384.96" textLength="4.772" lengthAdjust="spacingAndGlyphs">a</tspan><tspan x="390.908" textLength="3.918" lengthAdjust="spacingAndGlyphs">t</tspan><tspan x="398.166" textLength="4.541" lengthAdjust="spacingAndGlyphs">s</tspan><tspan x="403.395" textLength="5.633" lengthAdjust="spacingAndGlyphs">e</tspan><tspan x="409.459" textLength="4.343" lengthAdjust="spacingAndGlyphs">r</tspan><tspan x="413.631" textLength="6.752" lengthAdjust="spacingAndGlyphs">u</tspan><tspan x="419.996" textLength="11.657" lengthAdjust="spacingAndGlyphs">m</tspan><tspan x="434.481" textLength="3.971" lengthAdjust="spacingAndGlyphs">(</tspan><tspan x="438.608" textLength="10.174" lengthAdjust="spacingAndGlyphs">%</tspan><tspan x="449.364" textLength="3.091" lengthAdjust="spacingAndGlyphs">)</tspan></text>
<g transform="rotate(-90)"><text transform="translate(0,286.1)" font-size="13" style="stroke-width:0.18px"><tspan x="-348.924" textLength="6.8" lengthAdjust="spacingAndGlyphs">h</tspan><tspan x="-341.968" textLength="6.461" lengthAdjust="spacingAndGlyphs">e</tspan><tspan x="-335.437" textLength="12.073" lengthAdjust="spacingAndGlyphs">m</tspan><tspan x="-323.737" textLength="7.376" lengthAdjust="spacingAndGlyphs">o</tspan><tspan x="-316.543" textLength="2.888" lengthAdjust="spacingAndGlyphs">l</tspan><tspan x="-313.316" textLength="5.919" lengthAdjust="spacingAndGlyphs">y</tspan><tspan x="-306.841" textLength="4.656" lengthAdjust="spacingAndGlyphs">s</tspan><tspan x="-301.993" textLength="2.888" lengthAdjust="spacingAndGlyphs">i</tspan><tspan x="-298.647" textLength="4.771" lengthAdjust="spacingAndGlyphs">s</tspan><tspan x="-290.536" textLength="4.599" lengthAdjust="spacingAndGlyphs">(</tspan><tspan x="-285.213" textLength="8.218" lengthAdjust="spacingAndGlyphs">%</tspan><tspan x="-276.74" textLength="3.343" lengthAdjust="spacingAndGlyphs">)</tspan></text><text transform="translate(0,281.7)" font-size="9.6" style="stroke-width:0.18px"><tspan x="-367.923" textLength="3.452" lengthAdjust="spacingAndGlyphs">s</tspan><tspan x="-363.603" textLength="5.021" lengthAdjust="spacingAndGlyphs">h</tspan><tspan x="-357.696" textLength="5.292" lengthAdjust="spacingAndGlyphs">A</tspan></text><text transform="translate(0,286.1)" font-size="13" style="stroke-width:0.18px"><tspan x="-374.04" textLength="5.366" lengthAdjust="spacingAndGlyphs">E</tspan></text></g>
<rect x="0" y="0" width="520" height="1" fill="#6f6f6f"/>
<rect x="0" y="0" width="1" height="438" fill="#707070"/>
<rect x="0" y="437" width="520" height="1" fill="#6c6c6c"/>
<rect x="1" y="1" width="518" height="1" fill="#383838"/>
<rect x="1" y="1" width="1" height="436" fill="#3c3c3c"/>
<rect x="1" y="436" width="518" height="1" fill="#393939"/>
<rect x="518" y="2" width="1" height="434" fill="#b4b4b4"/>
<rect x="519" y="0" width="1" height="438" fill="#000"/>
</svg>
</body></html>
